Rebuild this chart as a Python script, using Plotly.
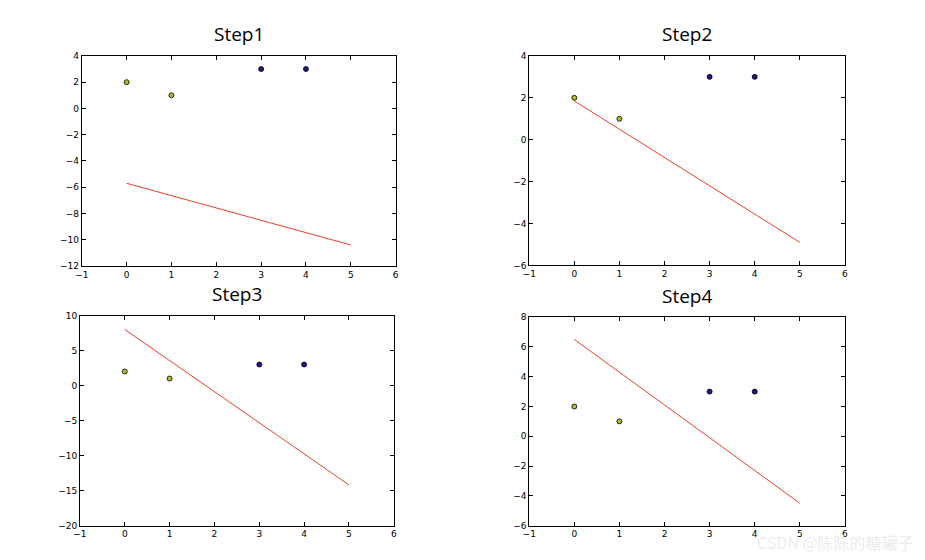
import plotly.graph_objects as go

titles = ["Step1", "Step2", "Step3", "Step4"]
pos_x = [0, 1]; pos_y = [2, 1]
neg_x = [3, 4]; neg_y = [3, 3]
line_x = [0, 5]
line_y = [[-5.7, -10.4], [1.85, -4.9], [8.0, -14.2], [6.5, -4.5]]
y_ranges = [[-12, 4], [-6, 4], [-20, 10], [-6, 8]]
y_dtick = [2, 2, 5, 2]

xdoms = [[0.073, 0.416], [0.562, 0.907], [0.071, 0.414], [0.562, 0.907]]
ydoms = [[0.540, 0.922], [0.541, 0.922], [0.068, 0.450], [0.068, 0.447]]

fig = go.Figure()
for i in range(4):
    s = "" if i == 0 else str(i + 1)
    fig.add_trace(go.Scatter(x=line_x, y=line_y[i], mode="lines", line=dict(color="#e8402a", width=1),
                             xaxis="x" + s, yaxis="y" + s, showlegend=False))
    fig.add_trace(go.Scatter(x=pos_x, y=pos_y, mode="markers",
                             marker=dict(color="#b5b82a", size=5, line=dict(color="black", width=0.8)),
                             xaxis="x" + s, yaxis="y" + s, showlegend=False))
    fig.add_trace(go.Scatter(x=neg_x, y=neg_y, mode="markers",
                             marker=dict(color="#1a1a8c", size=5, line=dict(color="black", width=0.8)),
                             xaxis="x" + s, yaxis="y" + s, showlegend=False))
    ax = dict(showline=True, mirror="ticks", linecolor="black", linewidth=1, ticks="inside",
              ticklen=4, tickcolor="black", showgrid=False, zeroline=False,
              tickfont=dict(size=9, color="black", family="DejaVu Sans"))
    fig.layout["xaxis" + s] = dict(ax, domain=xdoms[i], range=[-1, 6], dtick=1, anchor="y" + s)
    fig.layout["yaxis" + s] = dict(ax, domain=ydoms[i], range=y_ranges[i], dtick=y_dtick[i], anchor="x" + s)
    fig.add_annotation(text=titles[i], x=sum(xdoms[i]) / 2, y=ydoms[i][1] + 0.012, xref="paper", yref="paper",
                       xanchor="center", yanchor="bottom", showarrow=False,
                       font=dict(size=19, color="black", family="Open Sans"))

fig.add_annotation(text="CSDN @陈陈的糖罐子", x=0.985, y=0.012, xref="paper", yref="paper",
                   xanchor="right", yanchor="bottom", showarrow=False,
                   font=dict(size=16, color="#ececec", family="Noto Sans CJK SC"))

fig.update_layout(width=925, height=560, margin=dict(l=0, r=0, t=0, b=0),
                  paper_bgcolor="white", plot_bgcolor="white")
fig.write_html("out.html")
